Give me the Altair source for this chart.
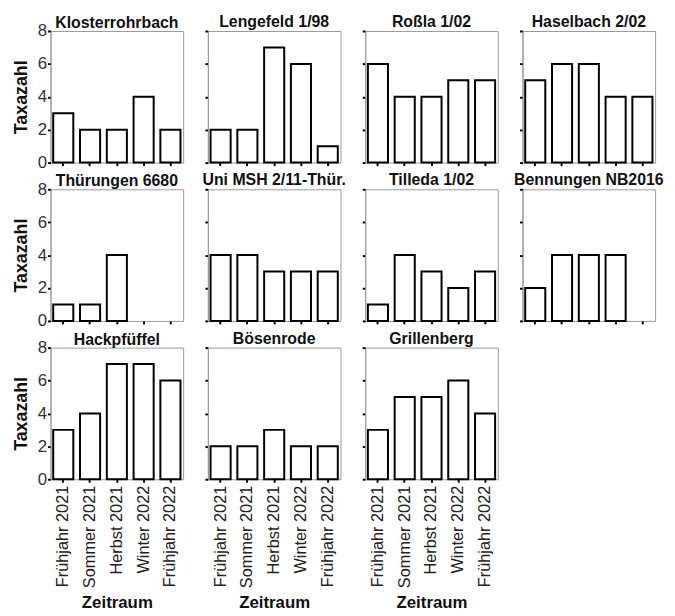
import altair as alt
import pandas as pd

seasons = ["Frühjahr 2021", "Sommer 2021", "Herbst 2021", "Winter 2022", "Frühjahr 2022"]

sites = [
    "Klosterrohrbach", "Lengefeld  1/98", "Roßla 1/02", "Haselbach 2/02",
    "Thürungen 6680", "Uni MSH 2/11-Thür.", "Tilleda 1/02", "Bennungen NB2016",
    "Hackpfüffel", "Bösenrode", "Grillenberg",
]

klosterrohrbach = [3, 2, 2, 4, 2]
lengefeld = [2, 2, 7, 6, 1]
rossla = [6, 4, 4, 5, 5]
haselbach = [5, 6, 6, 4, 4]
thuerungen = [1, 1, 4, None, None]
uni_msh = [4, 4, 3, 3, 3]
tilleda = [1, 4, 3, 2, 3]
bennungen = [2, 4, 4, 4, None]
hackpfueffel = [3, 4, 7, 7, 6]
boesenrode = [2, 2, 3, 2, 2]
grillenberg = [3, 5, 5, 6, 4]

series = [klosterrohrbach, lengefeld, rossla, haselbach, thuerungen, uni_msh,
          tilleda, bennungen, hackpfueffel, boesenrode, grillenberg]

y_ticks = [0, 2, 4, 6, 8]

FONT = "Liberation Sans"
W, H = 134, 133


def panel(i):
    name = sites[i]
    vals = series[i]
    df = pd.DataFrame({"Zeitraum": seasons, "Taxazahl": vals}).dropna()
    col, row = i % 4, i // 4
    show_y = col == 0
    show_x = row == 2

    xkw = dict(labels=show_x, labelAngle=-90, tickSize=3, tickWidth=2,
               tickColor="black", domain=False, labelFontSize=16.5,
               labelColor="#222", labelFont=FONT, labelPadding=3)
    if show_x:
        xkw.update(title="Zeitraum", titleFontSize=17, titleFontWeight="bold",
                   titleFont=FONT, titlePadding=7, titleColor="#111")
    else:
        xkw.update(title="")
    ykw = dict(values=y_ticks, labels=show_y, tickSize=3, tickWidth=2,
               tickColor="black", grid=False, domainColor="#9a9a9a",
               domainWidth=1, labelFontSize=17, labelColor="#333",
               labelFont=FONT, labelPadding=1)
    if show_y:
        ykw.update(title="Taxazahl", titleFontSize=18, titleFontWeight="bold",
                   titleFont=FONT, titlePadding=7, titleColor="#111")
    else:
        ykw.update(title="")

    return (
        alt.Chart(df)
        .mark_bar(fill="white", stroke="black", strokeWidth=2)
        .encode(
            x=alt.X("Zeitraum:N", sort=seasons,
                    scale=alt.Scale(domain=seasons, paddingInner=0.25, paddingOuter=0.1),
                    axis=alt.Axis(**xkw)),
            y=alt.Y("Taxazahl:Q", scale=alt.Scale(domain=[0, 8], nice=False),
                    axis=alt.Axis(**ykw)),
        )
        .properties(
            width=W, height=H,
            title=alt.TitleParams(name, fontSize=16, fontWeight="bold", font=FONT,
                                  offset=(-9 if show_y else 0), color="#111",
                                  frame="group"),
        )
    )


chart = (
    alt.concat(*[panel(i) for i in range(len(sites))], columns=4,
               spacing={"row": 27, "column": 25}, bounds="flush")
    .properties(padding={"left": 4, "top": 2, "right": 2, "bottom": 2})
    .configure_view(stroke="#9a9a9a", strokeWidth=1)
)

chart.save("out.html", embed_options={"renderer": "svg", "actions": False})
